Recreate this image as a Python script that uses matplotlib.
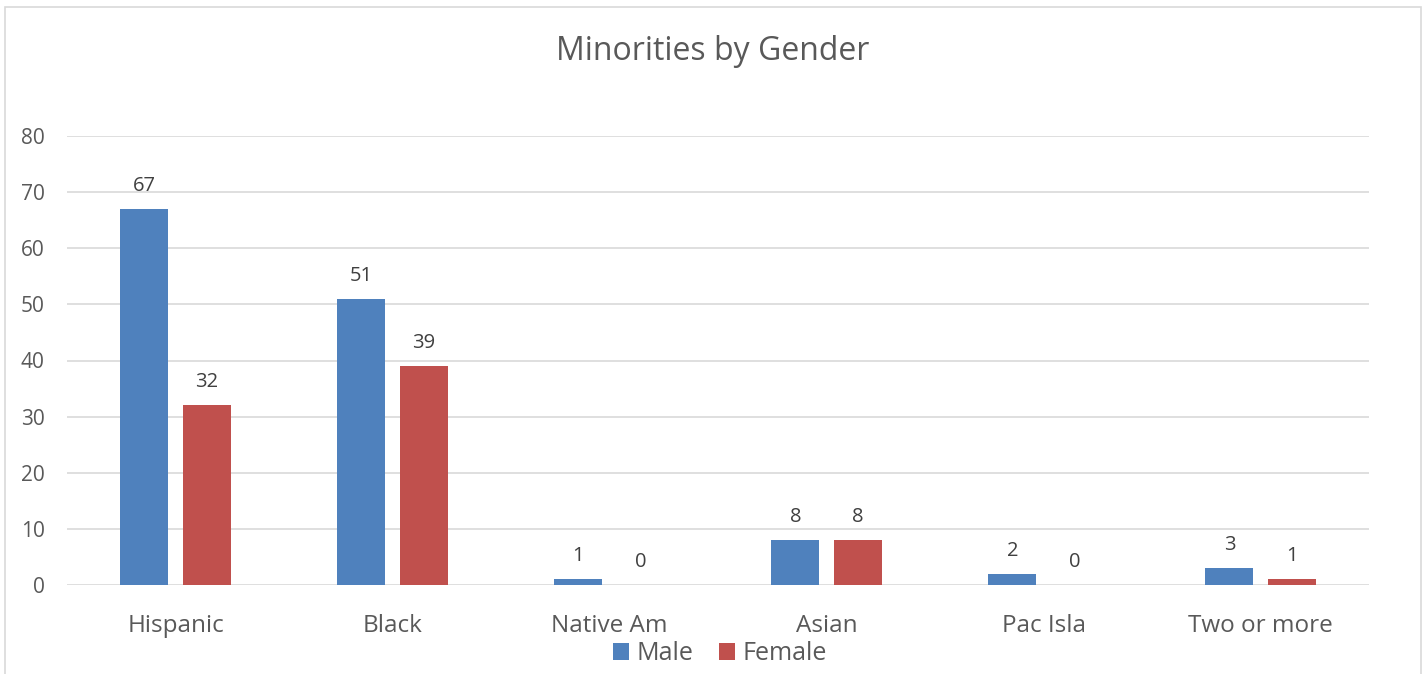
import matplotlib
matplotlib.use("Agg")
import matplotlib.pyplot as plt
import numpy as np
from matplotlib.patches import Rectangle

categories = ["Hispanic", "Black", "Native Am", "Asian", "Pac Isla", "Two or more"]
male = [67, 51, 1, 8, 2, 3]
female = [32, 39, 0, 8, 0, 1]
yticks = [0, 10, 20, 30, 40, 50, 60, 70, 80]

W, H = 1427, 674
fig = plt.figure(figsize=(W / 100, H / 100), dpi=100)
plt.rcParams['font.family'] = ['Open Sans', 'DejaVu Sans']
txt = '#595959'

# outer border
fig.add_artist(Rectangle((5 / W, -0.05), (1421 - 5) / W, (H - 7) / H + 0.05,
                         transform=fig.transFigure, fill=False,
                         edgecolor='#d9d9d9', linewidth=1.2))

ax = fig.add_axes([67 / W, (H - 585) / H, (1369 - 67) / W, (585 - 136) / H])
x = np.arange(len(categories))
bw = 0.221
off = 0.143
b1 = ax.bar(x - off, male, bw, color='#4f81bd', label='Male', zorder=3)
b2 = ax.bar(x + off, female, bw, color='#c0504d', label='Female', zorder=3)

for rects, vals in ((b1, male), (b2, female)):
    for r, v in zip(rects, vals):
        ax.annotate(str(v), (r.get_x() + r.get_width() / 2, v),
                    xytext=(0, 9.5), textcoords='offset points',
                    ha='center', va='bottom', fontsize=14.5, color='#404040')

ax.set_xlim(-0.5, len(categories) - 0.5)
ax.set_ylim(0, 80)
ax.set_yticks(yticks)
ax.set_xticks(x)
ax.set_xticklabels(categories, fontsize=17.5, color=txt)
ax.tick_params(axis='x', length=0, pad=21)
ax.tick_params(axis='y', length=0, pad=16, labelsize=15, colors=txt)
ax.grid(axis='y', color='#d9d9d9', linewidth=1.2, zorder=0)
for s in ax.spines.values():
    s.set_visible(False)

fig.text(713 / W, (H - 52) / H, "Minorities by Gender", ha='center', va='center',
         fontsize=23, color=txt)

leg = fig.legend(loc='center', bbox_to_anchor=(720 / W, (H - 654) / H),
                 ncol=2, frameon=False, fontsize=18, handlelength=0.65,
                 handleheight=0.65, handletextpad=0.3, columnspacing=1.0,
                 labelcolor=txt, borderpad=0)

fig.savefig("out.png", dpi=100)
